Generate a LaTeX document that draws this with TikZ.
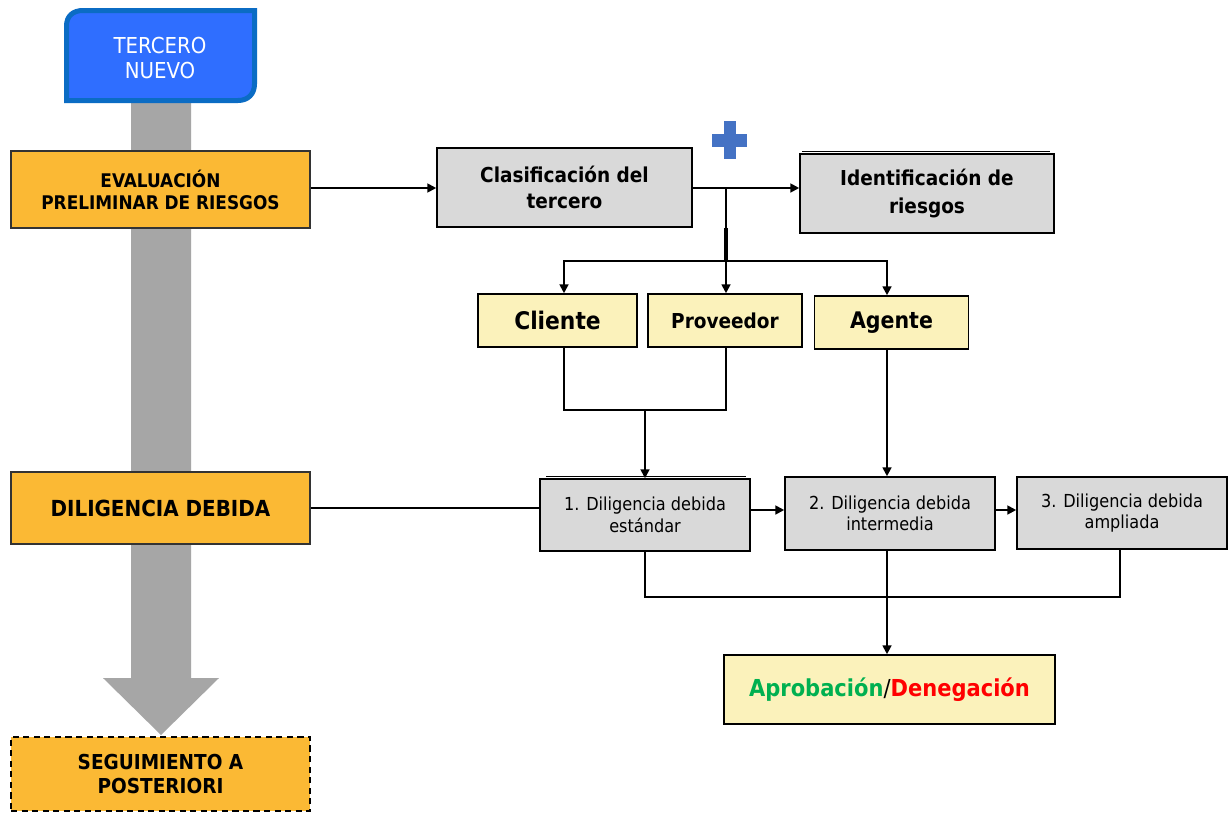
\documentclass[tikz,border=0pt]{standalone}
\usepackage{fontspec}
\setmainfont{DejaVu Sans Condensed}
\usetikzlibrary{arrows.meta,calc}
\newdimen\pu \pu=0.02cm
\definecolor{orng}{HTML}{FBB934}
\definecolor{gry}{HTML}{D9D9D9}
\definecolor{ylw}{HTML}{FBF2BB}
\definecolor{blu}{HTML}{2F6EFF}
\definecolor{bluedge}{HTML}{0B6CC4}
\definecolor{bigarrow}{HTML}{A6A6A6}
\definecolor{plusblue}{HTML}{4472C4}
\definecolor{grn}{HTML}{00B050}
\definecolor{rd}{HTML}{FF0000}
\begin{document}
\begin{tikzpicture}[x=0.02cm,y=-0.02cm,
  base/.style={rectangle, inner sep=0pt, align=center, line width=0.9pt},
  orangebox/.style={base, fill=orng, draw=black!80},
  graybox/.style={base, fill=gry, draw=black},
  yellowbox/.style={base, fill=ylw, draw=black},
  conn/.style={line width=1.1pt},
  arr/.style={conn, -{Triangle[length=5pt,width=5pt]}},
  bigfont/.style={font=\fontsize{10.7}{12.6}\selectfont\bfseries},
]
\useasboundingbox (0,0) rectangle (1229,812);
\fill[white] (0,0) rectangle (1229,812);

% big gray arrow
\fill[bigarrow] (131,103) -- (191,103) -- (191,678) -- (219,678) -- (161,735) -- (103,678) -- (131,678) -- cycle;

% Tercero nuevo
\filldraw[fill=blu, draw=bluedge, line width=5\pu]
  (66.5,100.5) -- (66.5,26) .. controls (66.5,16) and (73,10.5) .. (83,10.5)
  -- (254.5,10.5) -- (254.5,84) .. controls (254.5,94) and (248,100.5) .. (238,100.5) -- cycle;
\node[align=center, text=white, font=\fontsize{12.5}{14.6}\selectfont] (tn) at (160,58) {TERCERO\\NUEVO};

% left column boxes
\node[orangebox, minimum width=299\pu, minimum height=77\pu, font=\fontsize{10.7}{12.6}\selectfont\bfseries] (eval) at (160.5,189.5) {EVALUACIÓN\\PRELIMINAR DE RIESGOS};
\node[orangebox, minimum width=299\pu, minimum height=72\pu, font=\fontsize{12.6}{15}\selectfont\bfseries] (dil) at (160.5,508) {DILIGENCIA DEBIDA};
\node[base, fill=orng, draw=black, dashed, dash pattern=on 3.5pt off 2.5pt, line width=1.2pt, minimum width=299\pu, minimum height=74\pu, font=\fontsize{11.7}{13.2}\selectfont\bfseries] (seg) at (160.5,774) {SEGUIMIENTO A\\POSTERIORI};

% top row
\node[graybox, minimum width=255\pu, minimum height=79\pu, font=\fontsize{11.7}{14.7}\selectfont\bfseries] (clas) at (564.5,187.5) {Clasificación del\\tercero};
\draw[line width=0.9pt] (802,151.5) -- (1050,151.5);
\node[graybox, minimum width=254\pu, minimum height=79\pu, font=\fontsize{11.7}{15.5}\selectfont\bfseries] (ident) at (927,193.5) {Identificación de\\riesgos};

% plus sign
\fill[plusblue] (712,133.5) rectangle (747,146.5);
\fill[plusblue] (724,121) rectangle (736,159);

% type boxes
\node[yellowbox, minimum width=159\pu, minimum height=53\pu, font=\fontsize{13.8}{16}\selectfont\bfseries] (cli) at (557.5,320.5) {Cliente};
\node[yellowbox, minimum width=154\pu, minimum height=53\pu, font=\fontsize{11.7}{14}\selectfont\bfseries] (prov) at (725,320.5) {Proveedor};
\node[yellowbox, minimum width=154\pu, minimum height=53\pu, font=\fontsize{13}{15}\selectfont\bfseries] (age) at (891.5,322.5) {Agente};

% due diligence boxes
\draw[line width=0.9pt] (546,476.5) -- (746,476.5);
\node[graybox, minimum width=210\pu, minimum height=72\pu, font=\fontsize{10.2}{12.3}\selectfont] (d1) at (645,515) {1. Diligencia debida\\estándar};
\node[graybox, minimum width=210\pu, minimum height=73\pu, font=\fontsize{10.2}{12.3}\selectfont] (d2) at (890,513.5) {2. Diligencia debida\\intermedia};
\node[graybox, minimum width=210\pu, minimum height=72\pu, font=\fontsize{10.2}{12.3}\selectfont] (d3) at (1122,513) {3. Diligencia debida\\ampliada};

% result box
\node[yellowbox, minimum width=331\pu, minimum height=69\pu, font=\fontsize{13.3}{16}\selectfont\bfseries] (apr) at (889.5,689.5) {\textcolor{grn}{Aprobación}\textmd{/}\textcolor{rd}{Denegación}};

% reference coordinates
\coordinate (cx1) at (564,0);
\coordinate (cx2) at (726,0);
\coordinate (cx3) at (887,0);
\coordinate (j1) at (726,188);
\coordinate (j2) at (726,261);
\coordinate (j3) at (645,410);
\coordinate (j4) at (887,597);

% connectors
\draw[arr] (eval.east |- j1) -- (clas.west |- j1);
\draw[arr] (clas.east |- j1) -- (ident.west |- j1);
\draw[conn] (j1) -- (j2);
\draw[line width=2pt] (clas.south -| j1) -- (j2);
\draw[arr] (j2) -| (cli.north -| cx1);
\draw[arr] (j2) -- (prov.north -| cx2);
\draw[arr] (j2) -| (age.north -| cx3);
\draw[conn] (cli.south -| cx1) |- (j3) -| (prov.south -| cx2);
\draw[arr] (j3) -- (d1.north -| j3);
\draw[arr] (age.south -| cx3) -- (d2.north -| cx3);
\draw[conn] (dil.east) -- (dil.east -| d1.west);
\draw[arr] (d1.east |- 0,510) -- (d2.west |- 0,510);
\draw[arr] (d2.east |- 0,510) -- (d3.west |- 0,510);
\draw[conn] (d1.south -| j3) |- (j4) -| (d3.south -| 1120,0);
\draw[arr] (d2.south -| cx3) -- (apr.north -| cx3);
\end{tikzpicture}
\end{document}
